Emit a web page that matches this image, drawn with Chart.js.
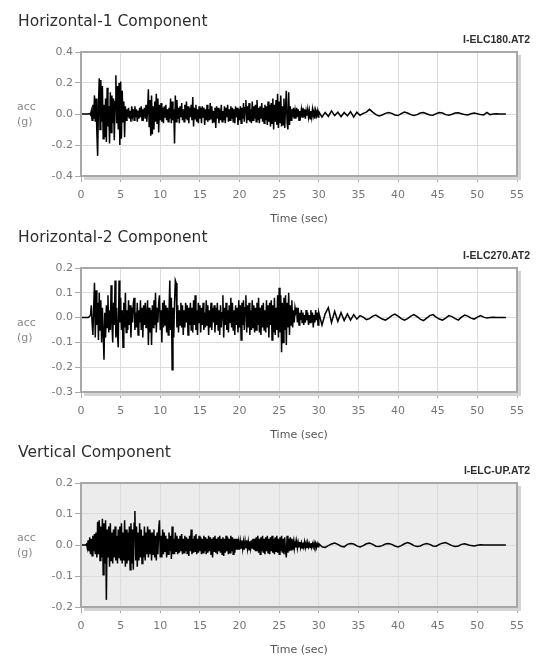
<!DOCTYPE html>
<html>
<head>
<meta charset="utf-8">
<script src="https://cdn.jsdelivr.net/npm/chart.js@4/dist/chart.umd.min.js"></script>
<style>
  body { margin: 0; background: #fff; }
  #wrap { position: relative; width: 538px; height: 657px; overflow: hidden; }
  #wrap canvas { position: absolute; left: 0; }
</style>
</head>
<body>
<div id="wrap">
  <canvas id="h1Chart" width="538" height="226" style="top:0px"></canvas>
  <canvas id="h2Chart" width="538" height="226" style="top:216px"></canvas>
  <canvas id="upChart" width="538" height="226" style="top:431px"></canvas>
</div>
<script>
// Sampling of the records: strong shaking every 0.1 s up to 30 s, then a coarser tail
const strongStep = 0.1;
const tailStart = 30;
const tailStep = 0.4;

const timeTicks = [0, 5, 10, 15, 20, 25, 30, 35, 40, 45, 50, 55];

// Horizontal-1 (I-ELC180.AT2), acc in g
const h1Strong = [
  0, 0, 0, 0, 0, 0, 0, 0, 0, 0,
  0, 0.003, -0.005, 0.02, -0.04, 0.06, -0.03, 0.12, -0.05, 0.10,
  -0.12, -0.27, 0.05, 0.23, -0.10, 0.22, -0.05, 0.18, -0.16, 0.06,
  -0.15, 0.10, -0.18, 0.17, -0.08, 0.05, -0.19, 0.14, -0.12, 0.12,
  -0.06, 0.10, -0.17, 0.08, 0.25, -0.06, 0.18, -0.10, 0.20, -0.20,
  0.21, -0.16, 0.15, -0.05, 0.08, -0.15, 0.05, -0.04, 0.03, -0.02,
  0.04, -0.03, 0.02, -0.05, 0.05, -0.01, 0.03, -0.04, 0.05, -0.02,
  0.03, -0.05, 0.02, -0.03, 0.04, -0.02, 0.05, -0.04, 0.03, -0.01,
  0.04, -0.03, 0.06, -0.05, 0.02, 0.16, -0.08, 0.09, -0.14, 0.12,
  -0.13, 0.05, -0.10, 0.08, -0.05, 0.13, -0.06, 0.10, -0.12, 0.06,
  -0.04, 0.07, -0.05, 0.04, -0.06, 0.05, -0.02, 0.06, -0.04, 0.03,
  -0.05, 0.04, -0.03, 0.10, -0.06, 0.08, -0.04, 0.03, -0.19, 0.12,
  -0.05, 0.09, -0.03, 0.04, -0.06, 0.05, -0.02, 0.07, -0.04, 0.03,
  -0.05, 0.06, -0.03, 0.08, -0.04, 0.05, -0.06, 0.04, -0.02, 0.06,
  -0.04, 0.11, -0.08, 0.04, -0.03, 0.06, -0.05, 0.03, -0.06, 0.05,
  -0.03, 0.04, -0.06, 0.05, -0.02, 0.04, -0.07, 0.03, -0.04, 0.06,
  -0.05, 0.03, -0.04, 0.07, -0.03, 0.05, -0.06, 0.02, -0.05, 0.04,
  -0.09, 0.05, -0.03, 0.04, -0.06, 0.03, -0.04, 0.06, -0.05, 0.02,
  -0.04, 0.05, -0.06, 0.04, -0.02, 0.06, -0.05, 0.03, -0.04, 0.05,
  -0.03, 0.04, -0.05, 0.03, -0.06, 0.05, -0.02, 0.04, -0.07, 0.03,
  -0.04, 0.05, -0.06, 0.04, -0.03, 0.07, -0.05, 0.04, 0.09, -0.06,
  0.05, -0.04, 0.07, -0.05, 0.03, -0.06, 0.08, -0.04, 0.05, -0.03,
  0.06, -0.05, 0.09, -0.04, 0.04, -0.06, 0.05, -0.03, 0.07, -0.05,
  0.04, -0.06, 0.06, -0.04, 0.05, -0.07, 0.08, -0.05, 0.06, -0.08,
  0.07, -0.06, 0.10, -0.10, 0.06, -0.05, 0.09, -0.07, 0.13, -0.09,
  0.08, -0.06, 0.12, -0.08, 0.05, -0.07, 0.10, -0.09, 0.04, 0.15,
  -0.06, -0.10, 0.14, -0.07, 0.05, -0.04, 0.03, -0.02, 0.04, -0.03,
  0.02, -0.03, 0.04, -0.02, 0.03, -0.04, 0.02, -0.01, 0.03, -0.02,
  0.04, -0.02, 0.03, -0.03, 0.02, -0.01, 0.03, -0.02, 0.02, -0.03,
  0.02, -0.02, 0.03, -0.01, 0.02, -0.03, 0.02, -0.01, 0.02, -0.02
];
const h1Tail = [
  0.015, -0.02, 0.01, -0.015, 0.02, -0.01, 0.012, -0.018, 0.01, -0.012,
  0.015, -0.02, 0.012, -0.008, 0.004, 0.012, 0.03, 0.012, -0.004, -0.012,
  -0.006, 0.004, 0.01, 0.004, -0.006, -0.01, 0.002, 0.012, 0.006, -0.004,
  -0.01, -0.004, 0.006, 0.01, 0.002, -0.006, -0.008, 0.002, 0.01, 0.006,
  -0.004, -0.008, -0.002, 0.006, 0.008, 0.002, -0.004, -0.006, 0.002, 0.006,
  0.002, -0.004, -0.006, 0.01, -0.004, 0, 0.002, 0, 0, 0
];

// Horizontal-2 (I-ELC270.AT2)
const h2Strong = [
  0, 0, 0, 0, 0, 0, 0, 0, 0, 0,
  0, 0.005, 0.01, 0.05, -0.02, -0.07, 0.04, 0.14, -0.08, 0.11,
  -0.03, 0.06, -0.09, 0.10, -0.05, 0.07, -0.10, 0.04, -0.06, -0.17,
  0.02, -0.08, 0.05, -0.04, 0.09, -0.06, 0.03, -0.05, 0.13, -0.02,
  -0.10, 0.06, -0.03, 0.15, -0.08, 0.04, -0.07, -0.12, 0.15, -0.02,
  0.08, -0.05, 0.03, -0.12, 0.06, -0.04, 0.10, -0.06, 0.03, -0.05,
  0.07, -0.03, 0.05, -0.08, 0.04, -0.02, 0.06, 0.08, -0.05, 0.02,
  -0.04, 0.06, -0.07, 0.03, -0.02, 0.07, -0.05, 0.04, -0.08, 0.05,
  -0.03, 0.06, -0.04, 0.02, 0.07, -0.11, 0.04, -0.06, 0.03, -0.11,
  0.05, -0.04, 0.07, -0.03, 0.10, -0.06, 0.04, -0.02, 0.06, 0.09,
  -0.05, 0.03, -0.10, 0.06, -0.04, 0.07, -0.03, 0.05, -0.06, 0.04,
  -0.07, 0.02, 0.15, -0.05, 0.08, -0.21, 0.04, -0.08, 0.06, 0.15,
  0.14, -0.04, 0.05, -0.06, 0.03, -0.03, 0.06, -0.04, 0.05, -0.07,
  0.03, -0.04, 0.06, -0.02, 0.05, -0.07, 0.04, -0.03, 0.06, -0.05,
  0.04, -0.06, 0.07, -0.03, 0.09, -0.05, 0.03, -0.07, 0.06, -0.02,
  0.05, -0.06, 0.04, -0.03, 0.06, -0.05, 0.02, -0.04, 0.07, -0.03,
  0.05, -0.07, 0.03, -0.04, 0.06, -0.05, 0.04, -0.02, 0.05, -0.06,
  0.04, -0.03, 0.06, -0.05, 0.03, -0.07, 0.05, -0.04, 0.02, 0.09,
  -0.08, 0.04, -0.03, 0.06, -0.05, 0.03, -0.06, 0.05, -0.02, 0.08,
  -0.04, 0.06, -0.05, 0.03, -0.07, 0.05, -0.03, 0.04, -0.06, 0.07,
  -0.04, 0.05, -0.09, 0.06, -0.03, 0.07, -0.05, 0.04, 0.09, -0.06,
  0.05, -0.04, 0.06, -0.07, 0.03, -0.05, 0.07, -0.04, 0.05, -0.06,
  0.04, -0.05, 0.06, -0.03, 0.08, -0.06, 0.04, -0.07, 0.05, -0.04,
  0.06, -0.05, 0.03, -0.06, 0.07, -0.04, 0.05, -0.08, 0.06, -0.03,
  0.07, -0.09, 0.05, -0.06, 0.08, -0.07, 0.04, -0.05, 0.09, -0.08,
  0.12, -0.06, 0.09, -0.14, 0.06, -0.10, 0.08, -0.05, 0.09, -0.11,
  0.06, -0.04, 0.10, -0.07, 0.05, -0.03, 0.07, -0.04, 0.03, -0.02,
  0.04, 0.02, 0.03, -0.02, 0.04, -0.03, 0.02, -0.01, 0.03, -0.02,
  0.02, -0.03, 0.01, -0.02, 0.03, -0.01, 0.02, -0.03, 0.01, -0.02,
  0.03, -0.02, 0.02, -0.04, 0.01, -0.02, 0.03, -0.01, 0.02, -0.03
];
const h2Tail = [
  0.02, -0.03, 0.015, 0.04, -0.02, 0.025, -0.015, 0.02, -0.012, 0.015,
  -0.01, 0.012, -0.006, 0.008, 0.002, -0.008, -0.004, 0.006, 0.01, 0.002,
  -0.006, -0.01, -0.002, 0.008, 0.014, 0.006, -0.004, -0.01, -0.004, 0.006,
  0.012, 0.004, -0.006, -0.012, -0.002, 0.008, 0.012, 0.002, -0.006, -0.01,
  -0.002, 0.008, 0.004, -0.004, -0.01, 0.002, 0.01, 0.006, -0.002, -0.006,
  0.002, 0.008, 0.002, -0.002, 0, 0.001, 0, 0, 0, 0
];

// Vertical (I-ELC-UP.AT2)
const upStrong = [
  0, 0, 0, 0, 0, 0, 0, 0.003, -0.01, 0.015,
  -0.02, 0.025, -0.03, 0.02, -0.035, 0.03, -0.02, 0.035, -0.03, 0.04,
  -0.04, 0.075, -0.03, 0.08, -0.05, 0.06, -0.04, 0.085, -0.096, 0.07,
  -0.06, 0.08, -0.177, 0.05, -0.04, 0.06, -0.07, 0.07, -0.05, 0.04,
  -0.06, 0.05, -0.04, 0.06, -0.05, 0.03, -0.06, 0.05, -0.04, 0.06,
  -0.05, 0.07, -0.06, 0.04, -0.05, 0.08, -0.07, 0.05, -0.06, 0.04,
  -0.05, 0.06, -0.08, 0.07, -0.06, 0.05, -0.08, 0.07, 0.11, -0.05,
  0.06, -0.07, 0.04, -0.05, 0.07, -0.04, 0.05, -0.06, 0.03, -0.04,
  0.06, -0.05, 0.04, -0.03, 0.06, -0.04, 0.05, -0.03, 0.04, -0.05,
  0.04, -0.03, 0.05, -0.04, 0.03, -0.05, 0.04, -0.03, 0.05, 0.08,
  -0.04, 0.03, -0.04, 0.05, -0.03, 0.04, -0.02, 0.03, -0.04, 0.02,
  -0.03, 0.04, -0.02, 0.03, -0.045, 0.06, -0.03, 0.02, -0.03, 0.04,
  -0.02, 0.03, -0.03, 0.02, -0.025, 0.03, -0.02, 0.035, -0.03, 0.02,
  -0.025, 0.03, -0.02, 0.025, -0.03, 0.02, -0.035, 0.03, -0.02, 0.05,
  -0.03, 0.02, -0.025, 0.03, -0.02, 0.035, -0.03, 0.02, -0.025, 0.03,
  -0.02, 0.025, -0.03, 0.02, -0.025, 0.03, -0.02, 0.025, -0.03, 0.02,
  -0.025, 0.03, -0.02, 0.025, -0.03, 0.02, -0.04, 0.025, -0.02, 0.03,
  -0.025, 0.02, -0.03, 0.025, -0.02, 0.03, -0.025, 0.02, -0.03, 0.025,
  -0.035, 0.02, -0.025, 0.03, -0.02, 0.025, -0.03, 0.02, -0.025, 0.03,
  -0.02, 0.025, -0.03, 0.02, -0.025, 0.02, -0.015, 0.02, -0.015, 0.01,
  -0.015, 0.012, -0.01, 0.015, -0.012, 0.01, -0.015, 0.012, -0.01, 0.015,
  -0.012, 0.01, -0.015, 0.012, -0.01, 0.015, -0.012, 0.02, -0.015, 0.02,
  -0.02, 0.025, -0.02, 0.03, -0.025, 0.02, -0.03, 0.025, -0.02, 0.03,
  -0.025, 0.02, -0.03, 0.025, -0.02, 0.03, -0.025, 0.02, -0.03, 0.025,
  -0.02, 0.03, -0.025, 0.02, -0.03, 0.025, -0.02, 0.03, -0.025, 0.02,
  -0.03, 0.025, -0.02, 0.03, -0.025, 0.02, -0.03, 0.025, -0.02, -0.04,
  0.03, -0.025, 0.02, -0.02, 0.025, -0.015, 0.02, -0.015, 0.01, -0.012,
  0.01, -0.008, 0.012, -0.01, 0.008, -0.006, 0.01, -0.008, 0.006, -0.01,
  0.008, -0.006, 0.01, -0.008, 0.006, -0.01, 0.008, -0.006, 0.004, -0.008,
  0.006, -0.008, 0.004, -0.006, 0.008, -0.004, 0.006, -0.008, 0.004, -0.006
];
const upTail = [
  0.004, -0.006, -0.008, -0.002, 0.003, 0.006, 0.002, -0.004, -0.006, 0.002,
  0.005, 0.003, -0.003, -0.006, -0.002, 0.004, 0.006, 0.002, -0.004, -0.005,
  -0.002, 0.003, 0.005, 0.002, -0.003, -0.006, -0.002, 0.004, 0.008, 0.004,
  -0.002, -0.005, -0.003, 0.002, 0.005, 0.002, -0.003, -0.004, 0.002, 0.006,
  0.008, 0.003, -0.002, -0.005, -0.003, 0.002, 0.004, 0.001, -0.002, -0.003,
  -0.001, 0.001, 0, 0, 0, 0, 0, 0, 0, 0
];

const h1Ticks = [-0.4, -0.2, 0.0, 0.2, 0.4];
const h2Ticks = [-0.3, -0.2, -0.1, 0.0, 0.1, 0.2];
const upTicks = [-0.2, -0.1, 0.0, 0.1, 0.2];

const FONT = '"DejaVu Sans", Verdana, sans-serif';

function toPoints(strong, tail) {
  const pts = strong.map((v, i) => ({ x: +(i * strongStep).toFixed(2), y: v }));
  tail.forEach((v, i) => pts.push({ x: +(tailStart + i * tailStep).toFixed(2), y: v }));
  return pts;
}

function fmt(v) {
  return Math.abs(v) < 1e-9 ? '0.0' : v.toFixed(1);
}

// plot background, framed box with a soft shadow, titles and the "acc (g)" label
const panelDecor = {
  id: 'panelDecor',
  beforeDraw(chart, args, opts) {
    const { ctx, chartArea: a } = chart;
    ctx.save();
    ctx.fillStyle = opts.plotBg;
    ctx.fillRect(a.left, a.top, a.right - a.left, a.bottom - a.top);
    ctx.restore();
  },
  afterDraw(chart, args, opts) {
    const { ctx, chartArea: a } = chart;
    ctx.save();
    ctx.fillStyle = '#d4d4d4';
    ctx.fillRect(a.right + 1, a.top + 3, 3, a.bottom - a.top + 1);
    ctx.fillRect(a.left + 3, a.bottom + 1, a.right - a.left + 1, 3);
    ctx.strokeStyle = '#a8a8a8';
    ctx.lineWidth = 2;
    ctx.strokeRect(a.left, a.top, a.right - a.left, a.bottom - a.top);

    ctx.textBaseline = 'middle';
    ctx.fillStyle = '#2e2e2e';
    ctx.textAlign = 'left';
    ctx.font = '15.5px ' + FONT;
    ctx.fillText(opts.title, 18, 22);

    ctx.textAlign = 'right';
    ctx.font = 'bold 10.5px "Liberation Sans", Arial, sans-serif';
    ctx.fillText(opts.file, 530, 40);

    const mid = (a.top + a.bottom) / 2;
    ctx.textAlign = 'left';
    ctx.fillStyle = '#888';
    ctx.font = '11px ' + FONT;
    ctx.fillText('acc', 17, mid - 7);
    ctx.fillText('(g)', 17, mid + 8);
    ctx.restore();
  }
};

function makeChart(id, title, file, strong, tail, yTicks, plotBg) {
  const ctx = document.getElementById(id).getContext('2d');
  return new Chart(ctx, {
    type: 'line',
    data: {
      datasets: [{
        data: toPoints(strong, tail),
        borderColor: '#000',
        borderWidth: 1.5,
        pointRadius: 0,
        tension: 0,
        fill: false
      }]
    },
    plugins: [panelDecor],
    options: {
      responsive: false,
      animation: false,
      parsing: false,
      layout: { padding: { top: 52, right: 21, bottom: 0, left: 0 } },
      plugins: {
        legend: { display: false },
        tooltip: { enabled: false },
        panelDecor: { title: title, file: file, plotBg: plotBg }
      },
      scales: {
        x: {
          type: 'linear',
          min: timeTicks[0],
          max: timeTicks[timeTicks.length - 1],
          afterBuildTicks: s => { s.ticks = timeTicks.map(v => ({ value: v })); },
          ticks: { color: '#777', font: { family: FONT, size: 11 }, padding: 7, maxRotation: 0, autoSkip: false },
          grid: { color: '#dcdcdc', tickColor: '#aaa', tickLength: 6 },
          border: { display: false },
          title: { display: true, text: 'Time (sec)', color: '#555', font: { family: FONT, size: 11 }, padding: { top: 0, bottom: 0 } },
          afterFit: s => { s.height = 50; s.paddingLeft = 0; s.paddingRight = 0; }
        },
        y: {
          min: yTicks[0],
          max: yTicks[yTicks.length - 1],
          afterBuildTicks: s => { s.ticks = yTicks.map(v => ({ value: v })); },
          ticks: { color: '#777', font: { family: FONT, size: 11 }, padding: 2, callback: v => fmt(v) },
          grid: { color: '#dcdcdc', tickColor: '#aaa', tickLength: 6 },
          border: { display: false },
          afterFit: s => { s.width = 81; s.paddingTop = 0; s.paddingBottom = 0; }
        }
      }
    }
  });
}

makeChart('h1Chart', 'Horizontal-1 Component', 'I-ELC180.AT2', h1Strong, h1Tail, h1Ticks, '#ffffff');
makeChart('h2Chart', 'Horizontal-2 Component', 'I-ELC270.AT2', h2Strong, h2Tail, h2Ticks, '#ffffff');
makeChart('upChart', 'Vertical Component', 'I-ELC-UP.AT2', upStrong, upTail, upTicks, '#ececec');
</script>
</body>
</html>
